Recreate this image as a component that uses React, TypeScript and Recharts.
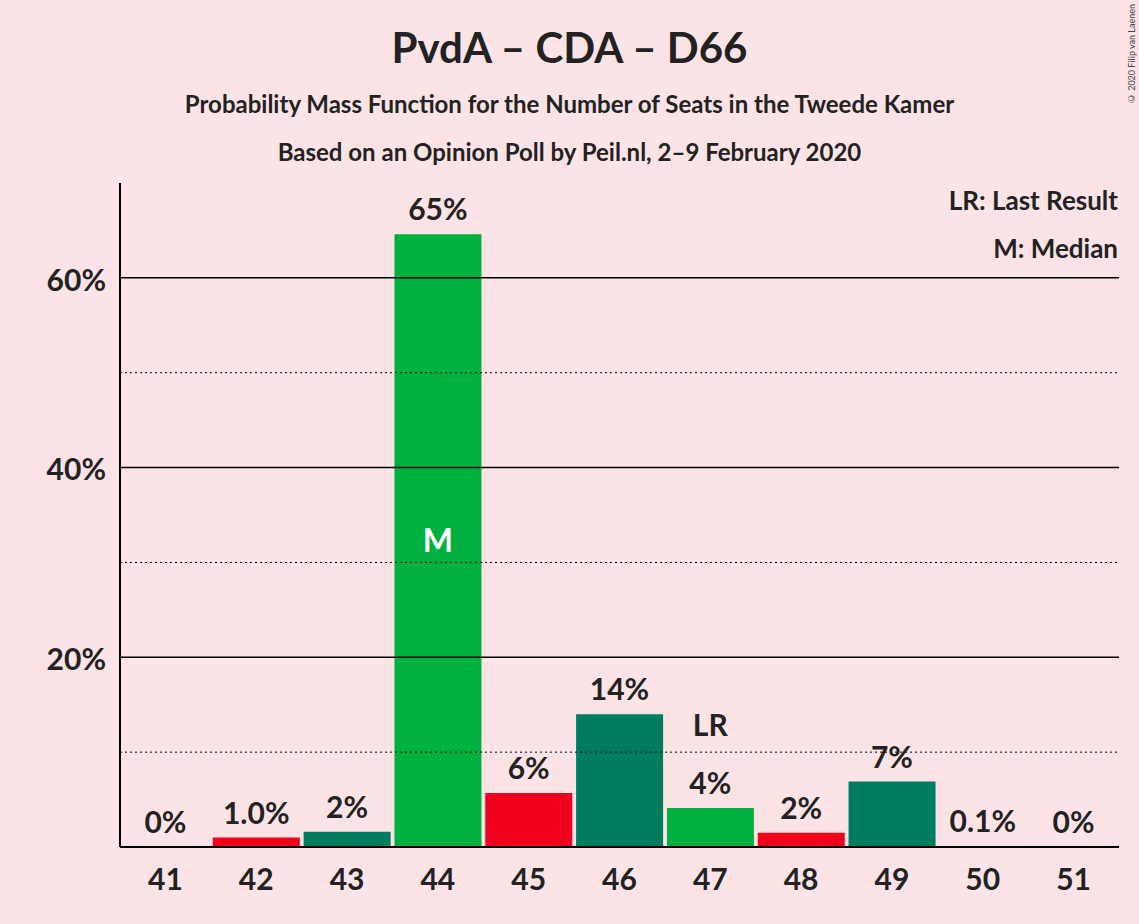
import { ComposedChart, Bar, Line, XAxis, YAxis, ReferenceLine, LabelList, Cell } from 'recharts';

const seats = ['41', '42', '43', '44', '45', '46', '47', '48', '49', '50', '51'];
const probs = [0, 1.0, 1.6, 64.6, 5.7, 14.0, 4.1, 1.5, 6.9, 0.1, 0];
const labels = ['0%', '1.0%', '2%', '65%', '6%', '14%', '4%', '2%', '7%', '0.1%', '0%'];
const colors = ['#F0001C', '#F0001C', '#007D5E', '#00B140', '#F0001C', '#007D5E', '#00B140', '#F0001C', '#007D5E', '#00B140', '#F0001C'];
const yTicks = [20, 40, 60];
const solidGrid = [20, 40, 60];
const dottedGrid = [10, 30, 50];
const medianSeat = '44';
const lastResultSeat = '47';

const data = seats.map((s, i) => ({ seat: s, p: probs[i], label: labels[i] }));
const font = 'Lato, sans-serif';

if (typeof document !== 'undefined') document.body.style.margin = '0';

// positioned on the hidden line's points, identified by seat value
const TopLabel = (props: any) => {
  const { x, y, value } = props;
  const d = data.find((r) => r.seat === value);
  if (!d) return null;
  return (
    <g>
      <text x={x} y={y - 14} textAnchor="middle" fontSize={30} fontWeight={700} fill="#222" fontFamily={font}>{d.label}</text>
      {d.seat === lastResultSeat && (
        <text x={x} y={y - 72} textAnchor="middle" fontSize={30} fontWeight={700} fill="#222" fontFamily={font}>LR</text>
      )}
    </g>
  );
};

const MedLabel = (props: any) => {
  const { x, y, width, height, value } = props;
  if (value !== medianSeat) return null;
  return (
    <text x={x + width / 2} y={y + height / 2 + 11} textAnchor="middle" fontSize={32} fontWeight={700} fill="#fff" fontFamily={font}>M</text>
  );
};

export default function App() {
  return (
    <div style={{ position: 'relative', width: 1139, height: 924, background: '#FCE4E6', fontFamily: font, color: '#222', overflow: 'hidden' }}>
      <div style={{ position: 'absolute', top: 22, width: '100%', textAlign: 'center', fontSize: 42, fontWeight: 700 }}>PvdA – CDA – D66</div>
      <div style={{ position: 'absolute', top: 89, width: '100%', textAlign: 'center', fontSize: 24, fontWeight: 700 }}>Probability Mass Function for the Number of Seats in the Tweede Kamer</div>
      <div style={{ position: 'absolute', top: 137, width: '100%', textAlign: 'center', fontSize: 24, fontWeight: 700 }}>Based on an Opinion Poll by Peil.nl, 2–9 February 2020</div>
      <div style={{ position: 'absolute', top: 184, right: 21, fontSize: 26, fontWeight: 700, zIndex: 2 }}>LR: Last Result</div>
      <div style={{ position: 'absolute', top: 232, right: 21, fontSize: 26, fontWeight: 700, zIndex: 2 }}>M: Median</div>
      <div style={{ position: 'absolute', top: 4, left: 1126, fontSize: 9, writingMode: 'vertical-rl', transform: 'rotate(180deg)', color: '#444' }}>© 2020 Filip van Laenen</div>
      <div style={{ position: 'absolute', top: 0, left: 0 }}>
        <ComposedChart width={1139} height={924} data={data} margin={{ top: 183, left: 0, right: 20, bottom: 47 }} barCategoryGap={2}>
          <XAxis dataKey="seat" axisLine={{ stroke: '#000', strokeWidth: 2 }} tickLine={false} tick={{ fontSize: 30, fontWeight: 700, fill: '#222', fontFamily: font, dy: 14 }} />
          <YAxis domain={[0, 70]} ticks={yTicks} tickFormatter={(v: number) => `${v}%`} width={120} axisLine={{ stroke: '#000', strokeWidth: 2 }} tickLine={false} tick={{ fontSize: 30, fontWeight: 700, fill: '#222', fontFamily: font, dx: -6, dy: 2 }} allowDataOverflow />
          {solidGrid.map((v) => <ReferenceLine key={'s' + v} y={v} stroke="#000" strokeWidth={1.5} />)}
          {dottedGrid.map((v) => <ReferenceLine key={'d' + v} y={v} stroke="#000" strokeDasharray="2 3" />)}
          <Bar dataKey="p" isAnimationActive={false}>
            {data.map((d, i) => <Cell key={d.seat} fill={colors[i]} />)}
            <LabelList dataKey="seat" content={MedLabel} />
          </Bar>
          <Line dataKey="p" stroke="none" dot={false} activeDot={false} isAnimationActive={false}>
            <LabelList dataKey="seat" content={TopLabel} />
          </Line>
        </ComposedChart>
      </div>
    </div>
  );
}
